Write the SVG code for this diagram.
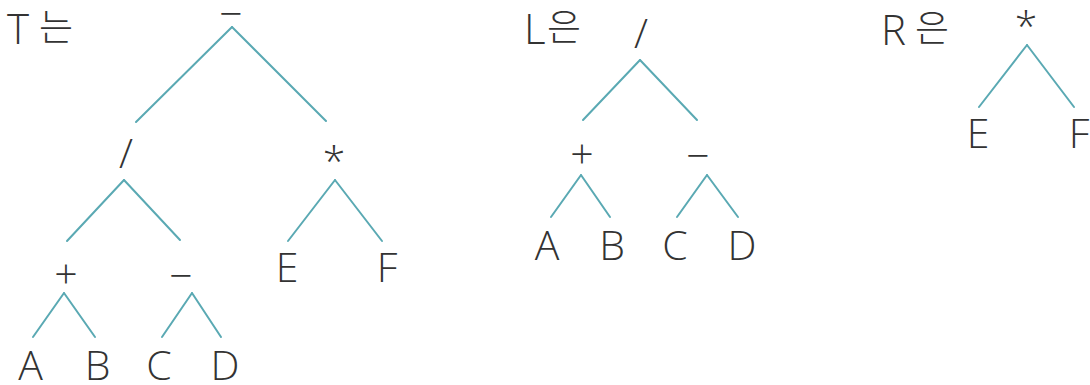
<svg xmlns="http://www.w3.org/2000/svg" width="1090" height="385" viewBox="0 0 1090 385">
<style>
  .t { font-family: "Open Sans", "Liberation Sans", sans-serif; font-weight: 300; font-size: 41px; fill: #333333; text-anchor: middle; }
  .lbl { font-family: "Open Sans", "Liberation Sans", sans-serif; font-weight: 300; font-size: 42px; fill: #333333; }
  .ko { font-family: "Noto Sans CJK KR", sans-serif; font-weight: 300; font-size: 37px; fill: #333333; }
  .e { stroke: #5aa9b3; stroke-width: 2; fill: none; stroke-linecap: round; }
</style>
<rect width="1090" height="385" fill="#ffffff"/>

<g id="label-T">
  <text class="lbl" x="7" y="44">T</text>
  <text class="ko" x="39" y="41">는</text>
</g>
<g id="label-L">
  <text class="lbl" x="524" y="44">L</text>
  <text class="ko" x="547" y="41">은</text>
</g>
<g id="label-R">
  <text class="lbl" x="881" y="45">R</text>
  <text class="ko" x="915" y="42">은</text>
</g>

<g id="connectors">
  <!-- Tree T -->
  <line class="e" x1="232" y1="27" x2="136" y2="122"/>
  <line class="e" x1="232" y1="27" x2="326" y2="121"/>
  <line class="e" x1="124" y1="180" x2="67" y2="241"/>
  <line class="e" x1="124" y1="180" x2="180" y2="240"/>
  <line class="e" x1="335" y1="180" x2="288" y2="241"/>
  <line class="e" x1="335" y1="180" x2="382" y2="241"/>
  <line class="e" x1="64" y1="293" x2="33" y2="337"/>
  <line class="e" x1="64" y1="293" x2="95" y2="337"/>
  <line class="e" x1="192" y1="293" x2="162" y2="337"/>
  <line class="e" x1="192" y1="293" x2="221" y2="337"/>
  <!-- Tree L -->
  <line class="e" x1="640" y1="60" x2="583" y2="120"/>
  <line class="e" x1="640" y1="60" x2="697" y2="120"/>
  <line class="e" x1="581" y1="175" x2="551" y2="217"/>
  <line class="e" x1="581" y1="175" x2="610" y2="217"/>
  <line class="e" x1="707" y1="175" x2="677" y2="217"/>
  <line class="e" x1="707" y1="175" x2="738" y2="217"/>
  <!-- Tree R -->
  <line class="e" x1="1027" y1="45" x2="979" y2="107"/>
  <line class="e" x1="1027" y1="45" x2="1074" y2="107"/>
</g>

<!-- Tree T nodes -->
<g id="T-minus-root"><text class="t" x="231" y="28">−</text></g>
<g id="T-div"><text class="t" x="126" y="168">/</text></g>
<g id="T-mul"><text class="t" x="334" y="176" font-size="28">*</text></g>
<g id="T-plus"><text class="t" x="66" y="288">+</text></g>
<g id="T-minus"><text class="t" x="181" y="290">−</text></g>
<g id="T-A"><text class="t" x="30.5" y="380">A</text></g>
<g id="T-B"><text class="t" x="97.5" y="380">B</text></g>
<g id="T-C"><text class="t" x="159" y="380">C</text></g>
<g id="T-D"><text class="t" x="225" y="380">D</text></g>
<g id="T-E"><text class="t" x="287" y="282">E</text></g>
<g id="T-F"><text class="t" x="387" y="282">F</text></g>

<!-- Tree L nodes -->
<g id="L-div"><text class="t" x="641" y="48" font-size="34">/</text></g>
<g id="L-plus"><text class="t" x="582" y="168">+</text></g>
<g id="L-minus"><text class="t" x="698" y="170">−</text></g>
<g id="L-A"><text class="t" x="547" y="260">A</text></g>
<g id="L-B"><text class="t" x="612" y="260">B</text></g>
<g id="L-C"><text class="t" x="675" y="260">C</text></g>
<g id="L-D"><text class="t" x="742" y="260">D</text></g>

<!-- Tree R nodes -->
<g id="R-mul"><text class="t" x="1026" y="41" font-size="23">*</text></g>
<g id="R-E"><text class="t" x="978" y="148">E</text></g>
<g id="R-F"><text class="t" x="1079" y="148">F</text></g>
</svg>
